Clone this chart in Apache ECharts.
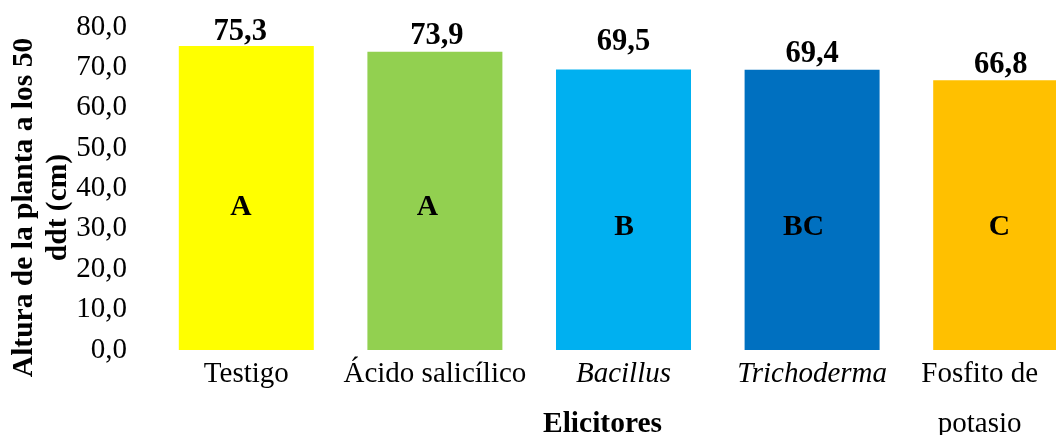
<!DOCTYPE html>
<html>
<head>
<meta charset="utf-8">
<script src="https://cdn.jsdelivr.net/npm/echarts@6/dist/echarts.min.js"></script>
<style>
  html, body { margin: 0; padding: 0; background: #fff; }
  #chart { width: 1056px; height: 435px; }
</style>
</head>
<body>
<div id="chart"></div>
<script>
// Plant height 50 days after transplant, by elicitor treatment
const categories = ['Testigo', 'Ácido salicílico', 'Bacillus', 'Trichoderma', 'Fosfito de\npotasio'];
const alturas = [75.3, 73.9, 69.5, 69.4, 66.8];
const grupos = ['A', 'A', 'B', 'BC', 'C'];
const yMin = 0, yMax = 80, yStep = 10;

// Styling
const barColors = ['#FFFF00', '#92D050', '#00B0F0', '#0070C0', '#FFC000'];
const italicCats = [false, false, true, true, false];
const valueLabelOffsets = [[-6, 2], [2, 0], [0, -12], [0, 0], [0, 0]];
const groupLabelPos = [['46%', '53%'], ['44.5%', '52.2%'], ['50.4%', '56.2%'], ['43.7%', '56.2%'], ['49%', '54.4%']];

const FONT = "'Liberation Serif', 'Times New Roman', serif";
const fmt = v => v.toFixed(1).replace('.', ',');

const lastIdx = categories.length - 1;
const axisData = categories.map((c, i) => {
  const item = { value: c, textStyle: {} };
  if (italicCats[i]) item.textStyle.fontStyle = 'italic';
  if (i === lastIdx) item.textStyle.padding = [0, 42, 0, 0];
  return item;
});

const chart = echarts.init(document.getElementById('chart'));
chart.setOption({
  animation: false,
  backgroundColor: '#ffffff',
  textStyle: { fontFamily: FONT, color: '#000' },
  grid: { left: 152, right: -39, top: 27, bottom: 85, outerBoundsMode: 'none', containLabel: false },
  xAxis: {
    type: 'category',
    data: axisData,
    axisLine: { show: false },
    axisTick: { show: false },
    axisLabel: { fontFamily: FONT, fontSize: 29, color: '#000', lineHeight: 50, margin: -1, interval: 0 },
    name: 'Elicitores',
    nameLocation: 'middle',
    nameGap: 59,
    nameMoveOverlap: false,
    nameTextStyle: { fontFamily: FONT, fontSize: 29.5, fontWeight: 'bold', color: '#000', padding: [0, 42, 0, 0] }
  },
  yAxis: {
    type: 'value',
    min: yMin, max: yMax, interval: yStep,
    axisLine: { show: false },
    axisTick: { show: false },
    splitLine: { show: false },
    axisLabel: { fontFamily: FONT, fontSize: 29, color: '#000', margin: 25, formatter: v => fmt(v) },
    name: 'Altura de la planta a los 50\nddt (cm)',
    nameLocation: 'middle',
    nameRotate: 90,
    nameGap: 77,
    nameMoveOverlap: false,
    nameTextStyle: { fontFamily: FONT, fontSize: 29.5, fontWeight: 'bold', color: '#000', lineHeight: 34, padding: [0, 38, 0, 0] }
  },
  series: [
    {
      type: 'bar',
      barWidth: 135,
      data: alturas.map((v, i) => ({
        value: v,
        itemStyle: { color: barColors[i] },
        label: { offset: valueLabelOffsets[i] }
      })),
      label: {
        show: true,
        position: 'top',
        distance: 0,
        fontFamily: FONT,
        fontSize: 30.5,
        fontWeight: 'bold',
        color: '#000',
        formatter: p => fmt(p.value)
      }
    },
    {
      type: 'bar',
      barWidth: 135,
      barGap: '-100%',
      silent: true,
      z: 3,
      itemStyle: { color: 'rgba(0,0,0,0)' },
      data: alturas.map((v, i) => ({
        value: v,
        label: { position: groupLabelPos[i] }
      })),
      label: {
        show: true,
        align: 'center',
        verticalAlign: 'middle',
        fontFamily: FONT,
        fontSize: 29.5,
        fontWeight: 'bold',
        color: '#000',
        formatter: p => grupos[p.dataIndex]
      }
    }
  ]
});
</script>
</body>
</html>
